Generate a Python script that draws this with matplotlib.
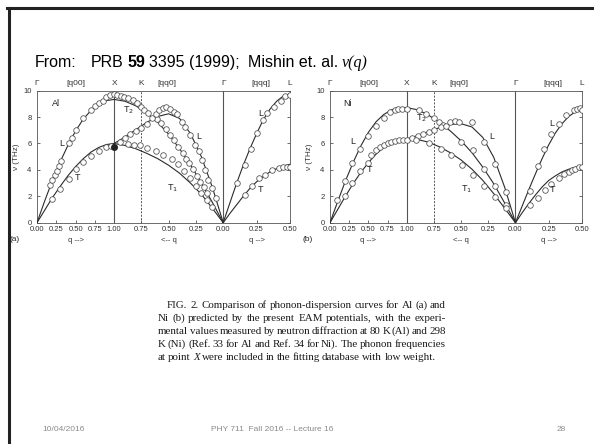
import numpy as np
import matplotlib

matplotlib.use("Agg")
import matplotlib.pyplot as plt
from matplotlib.lines import Line2D
from matplotlib.transforms import blended_transform_factory

plt.rcParams["font.family"] = ["Liberation Sans", "DejaVu Sans"]

W, H = 594, 444
SQ2, SQ3 = np.sqrt(2), np.sqrt(3)
X_END = 1 + SQ2 + SQ3 * 0.5

# grids for the computed (EAM) curves
Q_GRID = [0.0, 0.1, 0.2, 0.3, 0.4, 0.5, 0.6, 0.7, 0.8, 0.9, 1.0]
QQ0_GRID = [1.0, 0.9, 0.8, 0.7, 0.6, 0.5, 0.4, 0.3, 0.2, 0.1, 0.0]
QQQ_GRID = [0.0, 0.05, 0.1, 0.15, 0.2, 0.25, 0.3, 0.35, 0.4, 0.45, 0.5]

# ---- Al (a) ----
AL_Q00_L = [0, 1.65, 3.2, 4.6, 5.85, 6.95, 7.85, 8.5, 8.95, 9.25, 9.34]
AL_Q00_T = [0, 0.95, 1.9, 2.75, 3.55, 4.25, 4.85, 5.35, 5.7, 5.92, 6.0]
AL_QQ0_T2 = [9.34, 9.2, 8.85, 8.3, 7.6, 6.7, 5.6, 4.4, 3.0, 1.55, 0]
AL_QQ0_L = [6.0, 6.5, 7.05, 7.6, 8.05, 8.25, 7.9, 6.75, 5.0, 2.7, 0]
AL_QQ0_T1 = [6.0, 5.85, 5.6, 5.25, 4.85, 4.35, 3.75, 3.0, 2.15, 1.1, 0]
AL_QQQ_L = [0, 1.5, 2.98, 4.35, 5.6, 6.75, 7.8, 8.6, 9.2, 9.6, 9.75]
AL_QQQ_T = [0, 0.7, 1.35, 2.0, 2.6, 3.1, 3.5, 3.85, 4.1, 4.3, 4.42]

AL_Q00_L_EXP_Q = [0.17, 0.2, 0.23, 0.26, 0.29, 0.31, 0.41, 0.45, 0.51, 0.6, 0.7, 0.75, 0.8, 0.85, 0.9, 0.95, 1.0]
AL_Q00_L_EXP = [2.85, 3.2, 3.6, 3.95, 4.3, 4.65, 6.0, 6.45, 7.05, 7.95, 8.55, 8.85, 9.05, 9.25, 9.5, 9.65, 9.72]
AL_Q00_T_EXP_Q = [0.2, 0.3, 0.41, 0.51, 0.6, 0.7, 0.8, 0.9, 0.96]
AL_Q00_T_EXP = [1.77, 2.55, 3.28, 4.04, 4.62, 5.05, 5.45, 5.76, 5.83]
AL_X_POINT = (1.0, 5.76)
AL_QQ0_T2_EXP_Q = [0.97, 0.94, 0.905, 0.87, 0.83, 0.79, 0.755, 0.725, 0.69, 0.61, 0.57, 0.525,
                   0.485, 0.45, 0.41, 0.37, 0.34, 0.31, 0.28, 0.24, 0.21, 0.18, 0.15]
AL_QQ0_T2_EXP = [9.67, 9.62, 9.55, 9.42, 9.29, 9.05, 8.75, 8.5, 8.3, 7.85, 7.55, 7.1,
                 6.65, 6.25, 5.75, 5.25, 4.85, 4.5, 4.1, 3.55, 3.1, 2.7, 2.25]
AL_QQ0_L_EXP_Q = [0.95, 0.9, 0.85, 0.8, 0.75, 0.7, 0.65, 0.62, 0.59, 0.555, 0.52, 0.49, 0.455,
                  0.425, 0.38, 0.35, 0.3, 0.255, 0.225, 0.195, 0.165, 0.135, 0.1, 0.065]
AL_QQ0_L_EXP = [6.15, 6.4, 6.7, 6.95, 7.2, 7.5, 7.9, 8.2, 8.5, 8.7, 8.75, 8.6, 8.4,
                8.25, 7.6, 7.25, 6.65, 5.9, 5.4, 4.75, 4.0, 3.25, 2.6, 1.85]
AL_QQ0_T1_EXP_Q = [0.87, 0.82, 0.76, 0.7, 0.62, 0.55, 0.47, 0.41, 0.36, 0.3, 0.25, 0.2, 0.15, 0.1]
AL_QQ0_T1_EXP = [5.95, 5.9, 5.85, 5.65, 5.45, 5.15, 4.8, 4.45, 3.95, 3.35, 2.8, 2.25, 1.7, 1.2]
AL_QQQ_L_EXP_Q = [0.1, 0.165, 0.21, 0.25, 0.3, 0.33, 0.38, 0.43, 0.465, 0.5]
AL_QQQ_L_EXP = [2.98, 4.37, 5.6, 6.8, 7.8, 8.3, 8.8, 9.25, 9.6, 9.7]
AL_QQQ_T_EXP_Q = [0.165, 0.215, 0.265, 0.31, 0.365, 0.415, 0.45, 0.475, 0.5]
AL_QQQ_T_EXP = [2.1, 2.8, 3.35, 3.6, 4.0, 4.15, 4.2, 4.22, 4.22]

# ---- Ni (b) ----
NI_Q00_L = [0, 1.6, 3.15, 4.55, 5.8, 6.85, 7.65, 8.2, 8.55, 8.7, 8.72]
NI_Q00_T = [0, 1.0, 2.0, 2.95, 3.8, 4.55, 5.2, 5.7, 6.05, 6.28, 6.35]
NI_QQ0_T2 = [8.72, 8.55, 8.15, 7.6, 6.95, 6.2, 5.3, 4.2, 2.95, 1.5, 0]
NI_QQ0_L = [6.35, 6.6, 6.9, 7.2, 7.45, 7.5, 7.25, 6.45, 4.95, 2.7, 0]
NI_QQ0_T1 = [6.35, 6.3, 6.1, 5.75, 5.3, 4.75, 4.05, 3.2, 2.2, 1.1, 0]
NI_QQQ_L = [0, 1.25, 2.5, 3.7, 4.85, 5.9, 6.8, 7.5, 8.05, 8.4, 8.5]
NI_QQQ_T = [0, 0.75, 1.45, 2.1, 2.7, 3.2, 3.55, 3.85, 4.05, 4.2, 4.25]

NI_Q00_L_EXP_Q = [0.09, 0.19, 0.29, 0.39, 0.5, 0.6, 0.7, 0.78, 0.84, 0.89, 0.94, 1.0]
NI_Q00_L_EXP = [1.75, 3.15, 4.5, 5.6, 6.55, 7.35, 7.95, 8.35, 8.5, 8.6, 8.65, 8.6]
NI_Q00_T_EXP_Q = [0.19, 0.29, 0.39, 0.49, 0.54, 0.6, 0.65, 0.7, 0.75, 0.8, 0.85, 0.9, 0.95, 1.0]
NI_Q00_T_EXP = [2.02, 2.98, 3.9, 4.5, 5.1, 5.5, 5.7, 5.85, 6.0, 6.1, 6.2, 6.25, 6.27, 6.3]
NI_QQ0_T2_EXP_Q = [0.89, 0.82, 0.75, 0.7, 0.67, 0.5, 0.39, 0.29, 0.185, 0.085]
NI_QQ0_T2_EXP = [8.55, 8.25, 7.95, 7.6, 7.4, 6.15, 5.5, 4.1, 2.78, 1.35]
NI_QQ0_L_EXP_Q = [0.95, 0.9, 0.85, 0.8, 0.75, 0.69, 0.64, 0.6, 0.555, 0.52, 0.4, 0.29, 0.185, 0.085]
NI_QQ0_L_EXP = [6.45, 6.55, 6.7, 6.85, 7.0, 7.25, 7.35, 7.65, 7.7, 7.65, 7.6, 6.1, 4.45, 2.35]
NI_QQ0_T1_EXP_Q = [0.92, 0.8, 0.69, 0.59, 0.49, 0.39, 0.29, 0.19, 0.09]
NI_QQ0_T1_EXP = [6.3, 6.05, 5.6, 5.1, 4.4, 3.6, 2.8, 1.95, 1.15]
NI_QQQ_L_EXP_Q = [0.11, 0.17, 0.215, 0.27, 0.325, 0.38, 0.44, 0.465, 0.485, 0.5]
NI_QQQ_L_EXP = [2.4, 4.3, 5.55, 6.75, 7.5, 8.15, 8.5, 8.6, 8.7, 8.55]
NI_QQQ_T_EXP_Q = [0.11, 0.17, 0.22, 0.27, 0.325, 0.365, 0.4, 0.425, 0.45, 0.475, 0.5]
NI_QQQ_T_EXP = [1.35, 1.85, 2.45, 2.95, 3.35, 3.7, 3.85, 4.0, 4.1, 4.2, 4.22]

X_TICK_LABELS = ["0.00", "0.25", "0.50", "0.75", "1.00", "0.75", "0.50", "0.25", "0.00", "0.25", "0.50"]
X_TICK_Q = [("q00", 0), ("q00", 0.25), ("q00", 0.5), ("q00", 0.75), ("q00", 1.0),
            ("qq0", 0.75), ("qq0", 0.5), ("qq0", 0.25), ("qq0", 0.0), ("qqq", 0.25), ("qqq", 0.5)]

CAPTION = [
    "FIG. 2. Comparison of phonon-dispersion curves for Al (a) and",
    "Ni (b) predicted by the present EAM potentials, with the experi-",
    "mental values measured by neutron diffraction at 80 K (Al) and 298",
    "K (Ni) (Ref. 33 for Al and Ref. 34 for Ni). The phonon frequencies",
    "at point X were included in the fitting database with low weight.",
]

LINE_C = "#2b2b2b"
PT_C = "#4a4a4a"


def path(seg, q):
    q = np.asarray(q, dtype=float)
    if seg == "q00":
        return q
    if seg == "qq0":
        return 1 + SQ2 * (1 - q)
    return 1 + SQ2 + SQ3 * q


def fx(x):
    return x / W


def fy(y):
    return 1 - y / H


def draw_panel(ax, curves, points, labels, tag):
    for seg, grid, vals in curves:
        ax.plot(path(seg, grid), vals, color=LINE_C, lw=0.8, zorder=3)
    for seg, qs, vals in points:
        ax.plot(path(seg, qs), vals, ls="none", marker="o", ms=4.0, mfc="white",
                mec=PT_C, mew=0.55, zorder=4)
    ax.axvline(1.0, color="#555555", lw=0.8, zorder=2)
    ax.axvline(1 + SQ2, color="#555555", lw=0.8, zorder=2)
    ax.axvline(path("qq0", 0.75), color="#555555", lw=0.7, ls=(0, (2, 1.5)), zorder=2)

    ax.set_xlim(0, X_END)
    ax.set_ylim(0, 10)
    ax.set_xticks([float(path(s, q)) for s, q in X_TICK_Q])
    ax.set_xticklabels(X_TICK_LABELS)
    ax.set_yticks([0, 2, 4, 6, 8, 10])
    ax.tick_params(direction="in", length=2.5, width=0.5, labelsize=5.5, pad=2.5,
                   right=True, top=False, colors="#333333")
    ax.tick_params(axis="y", pad=4)
    for sp in ax.spines.values():
        sp.set_linewidth(0.6)
        sp.set_color("#555555")
    ax.set_ylabel("ν (THz)", fontsize=5.8, labelpad=2.5, color="#333333")

    tr = blended_transform_factory(ax.transData, ax.transAxes)
    top = [("Γ", 0.0), ("[q00]", 0.5), ("X", 1.0), ("K", float(path("qq0", 0.75))),
           ("[qq0]", 1.68), ("Γ", 1 + SQ2), ("[qqq]", 2.9), ("L", X_END)]
    for s, x in top:
        ax.text(x, 1.025, s, transform=tr, ha="center", va="bottom", fontsize=6,
                color="#333333")
    for s, x in [("q -->", 0.5), ("<-- q", 1 + SQ2 / 2), ("q -->", 1 + SQ2 + SQ3 * 0.25)]:
        ax.text(x, -0.11, s, transform=tr, ha="center", va="top", fontsize=5.5,
                color="#333333")
    ax.text(-0.067, -0.1, tag, transform=ax.transAxes, ha="right", va="top",
            fontsize=6, color="#222222")
    for s, x, y in labels:
        ax.text(x, y, s, ha="center", va="center", fontsize=6.5, color="#222222", zorder=5)


fig = plt.figure(figsize=(W / 100, H / 100), dpi=100)
fig.patch.set_facecolor("white")

# slide frame
fig.add_artist(Line2D([fx(7), 1.0], [fy(8.5), fy(8.5)], color="#222222", lw=2.2))
fig.add_artist(Line2D([fx(8.5), fx(8.5)], [0.0, fy(8.5)], color="#222222", lw=2.2))

ax_a = fig.add_axes([fx(37), fy(222.7), (290 - 37) / W, (222.7 - 90.7) / H])
ax_b = fig.add_axes([fx(330), fy(222.7), (582 - 330) / W, (222.7 - 90.7) / H])

draw_panel(
    ax_a,
    [("q00", Q_GRID, AL_Q00_L), ("q00", Q_GRID, AL_Q00_T),
     ("qq0", QQ0_GRID, AL_QQ0_T2), ("qq0", QQ0_GRID, AL_QQ0_L), ("qq0", QQ0_GRID, AL_QQ0_T1),
     ("qqq", QQQ_GRID, AL_QQQ_L), ("qqq", QQQ_GRID, AL_QQQ_T)],
    [("q00", AL_Q00_L_EXP_Q, AL_Q00_L_EXP), ("q00", AL_Q00_T_EXP_Q, AL_Q00_T_EXP),
     ("qq0", AL_QQ0_T2_EXP_Q, AL_QQ0_T2_EXP), ("qq0", AL_QQ0_L_EXP_Q, AL_QQ0_L_EXP),
     ("qq0", AL_QQ0_T1_EXP_Q, AL_QQ0_T1_EXP),
     ("qqq", AL_QQQ_L_EXP_Q, AL_QQQ_L_EXP), ("qqq", AL_QQQ_T_EXP_Q, AL_QQQ_T_EXP)],
    [("Al", 0.25, 9.0), ("L", 0.32, 6.0), ("T", 0.53, 3.4), ("T$_2$", 1.18, 8.55),
     ("L", 2.1, 6.5), ("T$_1$", 1.76, 2.6), ("L", 2.9, 8.3), ("T", 2.9, 2.5)],
    "(a)",
)
ax_a.plot([AL_X_POINT[0]], [AL_X_POINT[1]], ls="none", marker="o", ms=4.0, mfc="#222222",
          mec="#222222", zorder=5)

draw_panel(
    ax_b,
    [("q00", Q_GRID, NI_Q00_L), ("q00", Q_GRID, NI_Q00_T),
     ("qq0", QQ0_GRID, NI_QQ0_T2), ("qq0", QQ0_GRID, NI_QQ0_L), ("qq0", QQ0_GRID, NI_QQ0_T1),
     ("qqq", QQQ_GRID, NI_QQQ_L), ("qqq", QQQ_GRID, NI_QQQ_T)],
    [("q00", NI_Q00_L_EXP_Q, NI_Q00_L_EXP), ("q00", NI_Q00_T_EXP_Q, NI_Q00_T_EXP),
     ("qq0", NI_QQ0_T2_EXP_Q, NI_QQ0_T2_EXP), ("qq0", NI_QQ0_L_EXP_Q, NI_QQ0_L_EXP),
     ("qq0", NI_QQ0_T1_EXP_Q, NI_QQ0_T1_EXP),
     ("qqq", NI_QQQ_L_EXP_Q, NI_QQQ_L_EXP), ("qqq", NI_QQQ_T_EXP_Q, NI_QQQ_T_EXP)],
    [("Ni", 0.23, 9.0), ("L", 0.3, 6.15), ("T", 0.52, 4.0), ("T$_2$", 1.19, 7.9),
     ("L", 2.1, 6.5), ("T$_1$", 1.78, 2.5), ("L", 2.89, 7.5), ("T", 2.9, 2.55)],
    "(b)",
)

renderer = fig.canvas.get_renderer()


def put_pieces(x_px, y_px, pieces):
    x = x_px
    for s, gap, kw in pieces:
        x += gap
        t = fig.text(fx(x), fy(y_px), s, va="baseline", **kw)
        x += t.get_window_extent(renderer).width


# title
TSZ = 11.5
put_pieces(35, 67, [
    ("From:", 0, dict(fontsize=TSZ)),
    ("PRB", 14, dict(fontsize=TSZ)),
    ("59", 4, dict(fontsize=TSZ, fontweight="bold")),
    ("3395 (1999);", 4, dict(fontsize=TSZ)),
    ("Mishin et. al.", 8, dict(fontsize=TSZ)),
    ("ν(q)", 4, dict(fontsize=TSZ, style="italic", family="Liberation Serif")),
])

# caption, justified
CAP_L, CAP_R = 158, 446
for i, line in enumerate(CAPTION):
    y = 308 + i * 13
    words = line.split(" ")
    left = CAP_L + (9 if i == 0 else 0)
    arts = []
    for w in words:
        kw = dict(fontsize=7.9, family="Liberation Serif", color="#1a1a1a")
        if i == 4 and w == "X":
            kw["style"] = "italic"
        arts.append(fig.text(0, fy(y), w, va="baseline", **kw))
    widths = [a.get_window_extent(renderer).width for a in arts]
    if i < len(CAPTION) - 1:
        gap = (CAP_R - left - sum(widths)) / (len(words) - 1)
    else:
        gap = 2.2
    x = left
    for a, wd in zip(arts, widths):
        a.set_x(fx(x))
        x += wd + gap

# footer
fig.text(fx(42), fy(431), "10/04/2016", fontsize=6, color="#8a8a8a", va="baseline")
fig.text(fx(272), fy(431), "PHY 711  Fall 2016 -- Lecture 16", fontsize=6, color="#8a8a8a",
         va="baseline", ha="center")
fig.text(fx(566), fy(431), "28", fontsize=6, color="#8a8a8a", va="baseline", ha="right")

fig.savefig("out.png", dpi=100)
